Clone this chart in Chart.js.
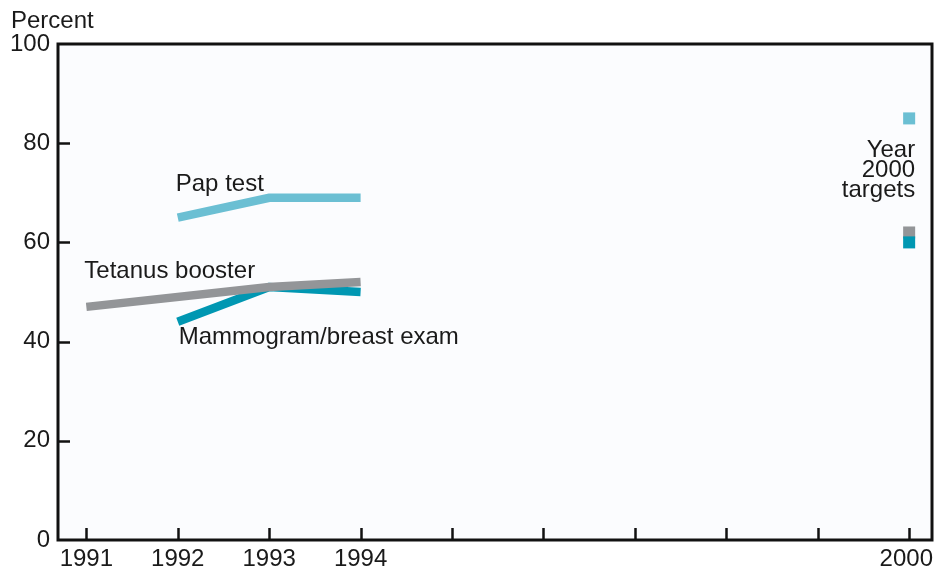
<!DOCTYPE html>
<html>
<head>
<meta charset="utf-8">
<script src="https://cdn.jsdelivr.net/npm/chart.js@4.4.1/dist/chart.umd.min.js"></script>
<style>
html,body{margin:0;padding:0;background:#fff;}
canvas{display:block;}
</style>
</head>
<body>
<canvas id="c" width="934" height="571"></canvas>
<script>
const years = [1991, 1992, 1993, 1994];
const papTest = [null, 65, 69, 69];
const tetanusBooster = [47, null, 51, 52];
const mammogram = [null, 44, 51, 50];
const targetYear = 2000;
const targetValues = [85, 62, 60]; // Pap, Tetanus, Mammogram
const xTickLabels = [1991, 1992, 1993, 1994, 2000];
const tickYears = [1991, 1992, 1993, 1994, 1995, 1996, 1997, 1998, 1999, 2000];
const yTickValues = [0, 20, 40, 60, 80, 100];

const COL_PAP = '#6bbfd3';
const COL_TET = '#939598';
const COL_MAM = '#0097b2';
const FONT = '"Liberation Sans", Arial, Helvetica, sans-serif';

function pts(vals){ return years.map((y,i)=>({x:y, y:vals[i]})).filter(p=>p.y!==null); }

const frame = {
  id:'frame',
  beforeDraw(chart){
    const {ctx, chartArea:a} = chart;
    ctx.save();
    ctx.fillStyle = '#fbfcfe';
    ctx.fillRect(a.left, a.top, a.right-a.left, a.bottom-a.top);
    ctx.restore();
  },
  afterDatasetsDraw(chart){
    const {ctx, chartArea:a, scales} = chart;
    const xs = scales.x, ys = scales.y;
    ctx.save();
    ctx.strokeStyle = '#111';
    ctx.lineWidth = 2.5;
    tickYears.forEach(v=>{
      const px = Math.round(xs.getPixelForValue(v))+0.5;
      ctx.beginPath(); ctx.moveTo(px, a.bottom); ctx.lineTo(px, a.bottom-12); ctx.stroke();
    });
    [20,40,60,80].forEach(v=>{
      const py = Math.round(ys.getPixelForValue(v))+0.5;
      ctx.beginPath(); ctx.moveTo(a.left, py); ctx.lineTo(a.left+12, py); ctx.stroke();
    });
    ctx.lineWidth = 3;
    ctx.strokeRect(a.left, a.top, a.right-a.left, a.bottom-a.top);
    ctx.fillStyle = '#1a1a1a';
    ctx.font = '24px ' + FONT;
    ctx.textBaseline = 'middle';
    // x tick labels (kept inside the canvas)
    ctx.textAlign = 'center';
    xTickLabels.forEach(v=>{
      const t = String(v);
      const w = ctx.measureText(t).width;
      const px = Math.min(xs.getPixelForValue(v), chart.width - 1 - w/2);
      ctx.fillText(t, px, a.bottom + 19);
    });
    ctx.textAlign = 'left';
    ctx.fillText('Percent', 11, 21);
    ctx.fillText('Pap test', xs.getPixelForValue(1992)-2, ys.getPixelForValue(71.6));
    ctx.fillText('Tetanus booster', xs.getPixelForValue(1991)-2, ys.getPixelForValue(54.2));
    ctx.fillText('Mammogram/breast exam', xs.getPixelForValue(1992)+1, ys.getPixelForValue(40.9));
    ctx.textAlign = 'right';
    const rx = xs.getPixelForValue(2000)+6;
    ctx.fillText('Year', rx, ys.getPixelForValue(78.6));
    ctx.fillText('2000', rx, ys.getPixelForValue(74.6));
    ctx.fillText('targets', rx, ys.getPixelForValue(70.4));
    ctx.restore();
  }
};

const lineDs = (label, vals, color) => ({
  type:'line', label, data: pts(vals), borderColor: color, backgroundColor: color,
  borderWidth: 8.5, pointRadius: 0, borderCapStyle:'butt', borderJoinStyle:'miter',
  tension: 0, fill:false
});

new Chart(document.getElementById('c'), {
  type:'line',
  data:{
    datasets:[
      lineDs('Tetanus booster', tetanusBooster, COL_TET),
      lineDs('Mammogram/breast exam', mammogram, COL_MAM),
      lineDs('Pap test', papTest, COL_PAP),
      {
        type:'scatter', label:'Year 2000 targets',
        data: targetValues.map(v=>({x:targetYear, y:v})),
        pointStyle:'rect', pointRadius: 8.5, pointBorderWidth: 0,
        backgroundColor:[COL_PAP, COL_TET, COL_MAM],
        borderColor:[COL_PAP, COL_TET, COL_MAM]
      }
    ]
  },
  plugins:[frame],
  options:{
    responsive:false,
    animation:false,
    events:[],
    layout:{autoPadding:false, padding:{left:0, right:2, top:44, bottom:0}},
    plugins:{legend:{display:false}, tooltip:{enabled:false}},
    scales:{
      x:{
        type:'linear', min:1990.69, max:2000.25,
        afterBuildTicks(scale){ scale.ticks = xTickLabels.map(v=>({value:v})); },
        ticks:{ display:false },
        grid:{display:false, drawTicks:false},
        border:{display:false},
        afterFit(scale){ scale.height = 31; scale.paddingLeft = 0; scale.paddingRight = 0; }
      },
      y:{
        min:0, max:100,
        afterBuildTicks(scale){ scale.ticks = yTickValues.map(v=>({value:v})); },
        ticks:{ color:'#1a1a1a', font:{family:FONT, size:24}, padding:8 },
        grid:{display:false, drawTicks:false},
        border:{display:false},
        afterFit(scale){ scale.width = 58; scale.paddingTop = 0; scale.paddingBottom = 0; }
      }
    }
  }
});
</script>
</body>
</html>
